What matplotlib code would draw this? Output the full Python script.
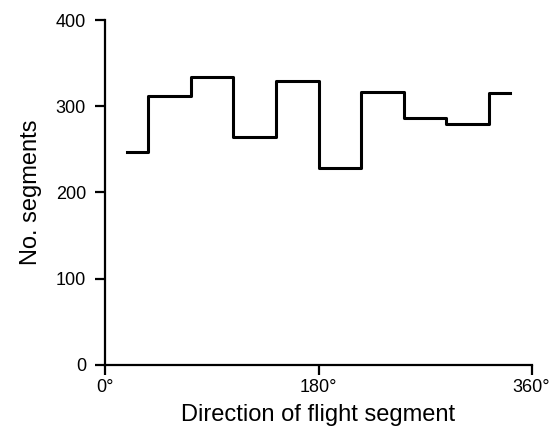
import matplotlib
matplotlib.use("Agg")
import matplotlib.pyplot as plt

# Data
bin_centers = [18, 54, 90, 126, 162, 198, 234, 270, 306, 342]
counts = [247, 312, 334, 264, 329, 228, 317, 287, 280, 315]
x_ticks = [0, 180, 360]
x_tick_labels = ["0°", "180°", "360°"]
y_ticks = [0, 100, 200, 300, 400]

plt.rcParams['font.family'] = ['Liberation Sans', 'DejaVu Sans']

fig = plt.figure(figsize=(5.52, 4.30), dpi=100)
ax = fig.add_axes([0.191, 0.152, 0.772, 0.801])

ax.step(bin_centers, counts, where='mid', color='black', linewidth=2.2)

ax.set_xlim(0, 360)
ax.set_ylim(0, 400)
ax.set_xticks(x_ticks)
ax.set_xticklabels(x_tick_labels)
ax.set_yticks(y_ticks)

for s in ['top', 'right']:
    ax.spines[s].set_visible(False)
for s in ['left', 'bottom']:
    ax.spines[s].set_linewidth(1.6)
ax.tick_params(axis='both', direction='out', length=7, width=1.6, labelsize=13)
ax.tick_params(axis='x', pad=3)
ax.tick_params(axis='y', pad=7)

ax.set_xlabel("Direction of flight segment", fontsize=17, labelpad=6)
ax.set_ylabel("No. segments", fontsize=17, labelpad=10)

fig.savefig("out.png", dpi=100)
